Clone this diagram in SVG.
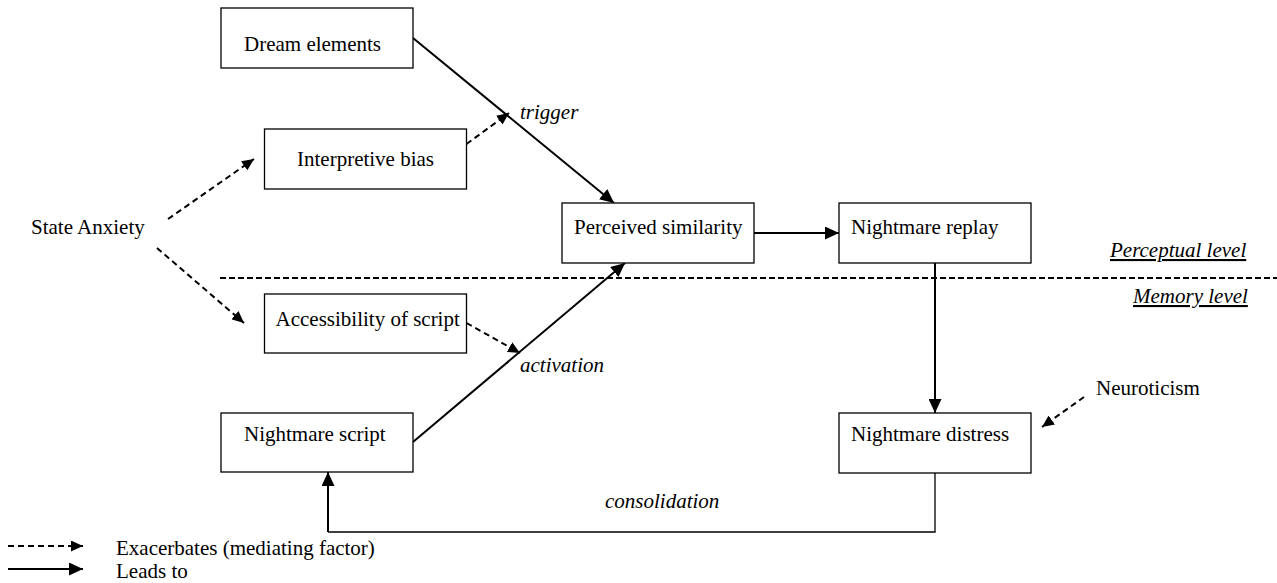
<svg xmlns="http://www.w3.org/2000/svg" width="1277" height="583" viewBox="0 0 1277 583">
<style>
text{font-family:'Liberation Serif','Times New Roman',Times,'Nimbus Roman','DejaVu Serif',serif;font-size:21px;fill:#000}
.it{font-style:italic}
.ul{text-decoration:underline}
.box{fill:#fff;stroke:#000;stroke-width:1.3}
.solid{fill:none;stroke:#000;stroke-width:2}
.thin{fill:none;stroke:#000;stroke-width:1.3}
.dash{fill:none;stroke:#000;stroke-width:2;stroke-dasharray:6 4}
</style>
<defs>
<marker id="ah" viewBox="0 0 14 13" refX="14" refY="6.5" markerWidth="14" markerHeight="13" markerUnits="userSpaceOnUse" orient="auto">
<path d="M0,0 L14,6.5 L0,13 z" fill="#000"/>
</marker>
<marker id="ahs" viewBox="0 0 12 11" refX="12" refY="5.5" markerWidth="12" markerHeight="11" markerUnits="userSpaceOnUse" orient="auto">
<path d="M0,0 L12,5.5 L0,11 z" fill="#000"/>
</marker>
</defs>
<rect width="1277" height="583" fill="#fff"/>
<g id="connectors">
<line class="dash" x1="220" y1="278" x2="1277" y2="278" style="stroke-dasharray:6 3"/>
<line class="solid" x1="413" y1="38" x2="614" y2="203" marker-end="url(#ah)"/>
<line class="solid" x1="413" y1="442" x2="625" y2="263" marker-end="url(#ah)"/>
<line class="solid" x1="754" y1="233" x2="839" y2="233" marker-end="url(#ah)"/>
<line class="solid" x1="935" y1="263" x2="935" y2="413" marker-end="url(#ah)"/>
<polyline class="thin" points="935,473 935,532 328,532"/>
<line class="solid" x1="328" y1="532" x2="328" y2="472" marker-end="url(#ah)"/>
<line class="dash" x1="168" y1="219" x2="254" y2="159" marker-end="url(#ahs)"/>
<line class="dash" x1="157" y1="248" x2="244" y2="323" marker-end="url(#ahs)"/>
<line class="dash" x1="466.5" y1="144" x2="509" y2="113" marker-end="url(#ahs)"/>
<line class="dash" x1="466.5" y1="323" x2="520" y2="353" marker-end="url(#ahs)"/>
<line class="dash" x1="1084" y1="397" x2="1042" y2="427" marker-end="url(#ahs)"/>
</g>
<g id="legend">
<line class="dash" x1="8" y1="546" x2="83" y2="546" marker-end="url(#ahs)"/>
<line class="solid" x1="8" y1="569" x2="83" y2="569" marker-end="url(#ah)"/>
<text x="116" y="555">Exacerbates (mediating factor)</text>
<text x="116" y="578">Leads to</text>
</g>
<g id="dream"><rect class="box" x="221" y="8" width="192" height="60"/><text x="244" y="51">Dream elements</text></g>
<g id="interp"><rect class="box" x="264.5" y="129" width="202" height="60"/><text x="297" y="166">Interpretive bias</text></g>
<g id="perceived"><rect class="box" x="562" y="203" width="192" height="60"/><text x="574" y="234">Perceived similarity</text></g>
<g id="replay"><rect class="box" x="839" y="203" width="192" height="60"/><text x="851" y="234">Nightmare replay</text></g>
<g id="access"><rect class="box" x="264.5" y="294" width="202" height="59"/><text x="275.5" y="326">Accessibility of script</text></g>
<g id="script"><rect class="box" x="221" y="413" width="192" height="59"/><text x="244" y="441">Nightmare script</text></g>
<g id="distress"><rect class="box" x="839" y="413" width="192" height="60"/><text x="851" y="441">Nightmare distress</text></g>
<g id="anxiety"><text x="31" y="234">State Anxiety</text></g>
<g id="neuroticism"><text x="1096" y="395">Neuroticism</text></g>
<g id="labels">
<text class="it" x="520" y="119">trigger</text>
<text class="it" x="520" y="372">activation</text>
<text class="it" x="605" y="508">consolidation</text>
<text class="it ul" x="1110" y="257">Perceptual level</text>
<text class="it ul" x="1133" y="303">Memory level</text>
</g>
</svg>
